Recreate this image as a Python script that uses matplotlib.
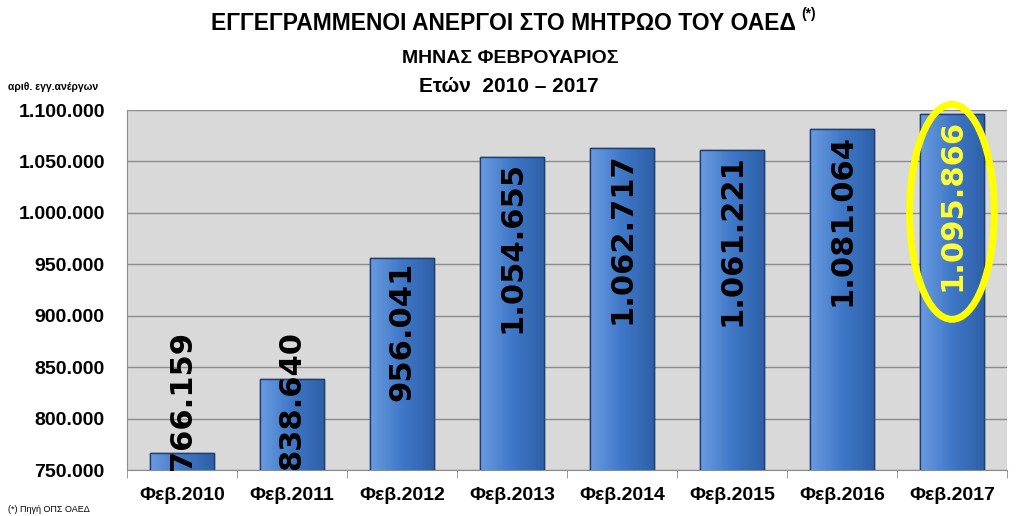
import matplotlib.pyplot as plt
import numpy as np
from matplotlib.patches import Ellipse
from matplotlib.colors import LinearSegmentedColormap

years = ["Φεβ.2010", "Φεβ.2011", "Φεβ.2012", "Φεβ.2013",
         "Φεβ.2014", "Φεβ.2015", "Φεβ.2016", "Φεβ.2017"]
unemployed = [766159, 838640, 956041, 1054655, 1062717, 1061221, 1081064, 1095866]
yticks = [750000, 800000, 850000, 900000, 950000, 1000000, 1050000, 1100000]

def gr(n):
    return f"{n:,}".replace(",", ".")

plt.rcParams['font.family'] = ['Liberation Sans', 'DejaVu Sans']

fig = plt.figure(figsize=(10.17, 5.16), dpi=100)
ax = fig.add_axes([0.1249, 0.0891, 0.8652, 0.6977])
ax.set_facecolor('#d9d9d9')

x = np.arange(len(years))
bars = ax.bar(x, unemployed, width=0.58, color='#3f78c8',
              edgecolor='#1f3f6e', linewidth=1.0, zorder=3)
ax.set_xlim(-0.5, len(years) - 0.5)
ax.set_ylim(750000, 1100000)

# horizontal gradient inside each bar
grad = np.linspace(0, 1, 256).reshape(1, -1)
cmap = LinearSegmentedColormap.from_list('b', ['#6a9be0', '#3f78c8', '#2e60a8'])
for b in bars:
    x0, w, h = b.get_x(), b.get_width(), b.get_height()
    im = ax.imshow(grad, cmap=cmap, aspect='auto', extent=[x0, x0 + w, 750000, h],
                   zorder=3.5)
    im.set_clip_path(b)
    ax.add_patch(plt.Rectangle((x0, 0), w, h, fill=False, edgecolor='#1f3f6e',
                               linewidth=1.0, zorder=4))

ax.set_yticks(yticks)
ax.set_yticklabels([gr(v) for v in yticks], fontsize=14, fontweight='bold')
ax.yaxis.grid(True, color='#8c8c8c', linewidth=1.0, zorder=1)
ax.tick_params(axis='y', length=0, pad=16)
ax.set_xticks(x)
ax.set_xticklabels(years, fontsize=14, fontweight='bold')
ax.set_xticks(np.arange(-0.5, len(years)), minor=True)
ax.tick_params(axis='x', which='major', length=0, pad=12)
ax.tick_params(axis='x', which='minor', length=6, color='#8c8c8c')
for s in ['top', 'right']:
    ax.spines[s].set_visible(False)
ax.spines['left'].set_color('#8c8c8c')
ax.spines['bottom'].set_color('#8c8c8c')

# value labels
fig.canvas.draw()
renderer = fig.canvas.get_renderer()
inv = ax.transData.inverted()
for i, v in enumerate(unemployed):
    col = '#ffff33' if i == len(years) - 1 else 'black'
    t = ax.text(i, v - 4000, gr(v), rotation=90, ha='center', va='top',
                fontsize=22, fontweight='bold', color=col, zorder=6,
                family=['DejaVu Sans'])
    bb = t.get_window_extent(renderer)
    y_low = inv.transform((bb.x0, bb.y0))[1]
    if y_low < 750000:
        t.set_y(750000)
        t.set_va('bottom')

ax.add_patch(Ellipse((7, 1001000), 0.77, 209000, fill=False, edgecolor='#ffff00',
                     linewidth=5, zorder=7, clip_on=False))

title = fig.text(0.495, 0.955, "ΕΓΓΕΓΡΑΜΜΕΝΟΙ ΑΝΕΡΓΟΙ ΣΤΟ ΜΗΤΡΩΟ ΤΟΥ ΟΑΕΔ",
                 ha='center', va='center', fontsize=16.5, fontweight='bold')
fig.canvas.draw()
tb = title.get_window_extent(fig.canvas.get_renderer())
fig.text(tb.x1 / fig.bbox.width + 0.005, 0.972, "(*)", ha='left', va='center',
         fontsize=10, fontweight='bold')
fig.text(0.502, 0.887, "ΜΗΝΑΣ ΦΕΒΡΟΥΑΡΙΟΣ", ha='center', va='center',
         fontsize=14, fontweight='bold')
fig.text(0.50, 0.832, "Ετών  2010 – 2017", ha='center', va='center',
         fontsize=15, fontweight='bold')
fig.text(0.008, 0.832, "αριθ. εγγ.ανέργων", ha='left', va='center', fontsize=7.5,
         fontweight='bold')
fig.text(0.008, 0.012, "(*) Πηγή ΟΠΣ ΟΑΕΔ", ha='left', va='center', fontsize=6.5)

fig.savefig('out.png', dpi=100)
